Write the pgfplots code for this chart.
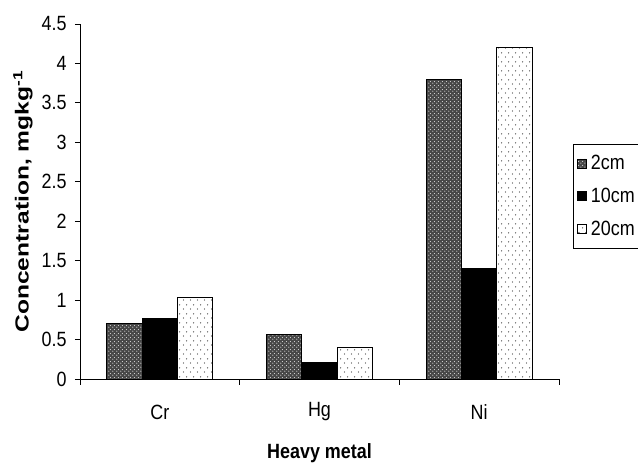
\documentclass[border=0pt]{standalone}
\usepackage{pgfplots}
\pgfplotsset{compat=1.18}
\usepackage{fontspec}
\setmainfont{Liberation Sans}
\usetikzlibrary{patterns.meta}

% dark mesh used for the 2 cm bars
\tikzdeclarepattern{
  name=meshdots, type=uncolored,
  bottom left={(0bp,0bp)}, top right={(4bp,4bp)}, tile size={(4bp,4bp)},
  code={\fill (1bp,1bp) circle (0.7bp); \fill (3bp,3bp) circle (0.7bp);}
}
% sparse dots used for the 20 cm bars
\tikzdeclarepattern{
  name=sparsedots, type=uncolored,
  bottom left={(0bp,0bp)}, top right={(7bp,9bp)}, tile size={(7bp,9bp)},
  code={\fill (1.75bp,2.25bp) circle (0.75bp); \fill (5.25bp,6.75bp) circle (0.75bp);}
}

\newcommand{\st}[1]{\scalebox{1}[1.15]{#1}}

\pgfplotstableread{
x  a     b     c
0  0.70  0.77  1.03
1  0.57  0.21  0.40
2  3.80  1.40  4.20
}\metals

\begin{document}
\begin{tikzpicture}
\useasboundingbox (0,0) rectangle (638bp,464bp);
\begin{axis}[
  at={(80bp,85bp)}, anchor=south west,
  scale only axis, width=479bp, height=355bp,
  font=\fontsize{18}{21}\selectfont,
  ybar=0pt, bar width=35.3bp,
  xmin=-0.5, xmax=2.5, ymin=0, ymax=4.5,
  axis x line*=bottom, axis y line*=left,
  axis line style={line width=0.9bp, -},
  xtick={0,1,2},
  xticklabels={\st{Cr},\st{Hg},\st{Ni}},
  major x tick style={draw=none},
  minor xtick={-0.5,0.5,1.5,2.5},
  minor tick length=6bp, major tick length=5bp,
  tick align=outside,
  tick style={black, line width=0.9bp},
  ytick={0,0.5,...,4.5},
  /pgf/number format/assume math mode=true,
  yticklabel={\st{\pgfmathprintnumber{\tick}}},
  yticklabel style={xshift=-5bp},
  xticklabel style={anchor=center, yshift=-28bp},
  xlabel={\st{\textbf{Heavy metal}}},
  xlabel style={at={(axis description cs:0.5,-0.2085)}, anchor=center},
  ylabel={\scalebox{1.3}[1]{\fontsize{19}{22}\selectfont\textbf{Concentration, mgkg\textsuperscript{-1}}}},
  ylabel style={at={(axis description cs:-0.119,0.5)}, anchor=center},
  legend style={at={(1.029,0.662)}, anchor=north west, draw=black, line width=0.9bp,
    font=\fontsize{18}{21}\selectfont, row sep=13bp, column sep=2bp,
    inner xsep=4bp, inner ysep=9bp, cells={anchor=west}},
  legend image code/.code={%
    \draw[#1, line width=0.6bp] (0bp,-4.5bp) rectangle (9bp,4.5bp);},
]
\addplot[draw=black, line width=0.8bp, fill=black!72,
  postaction={pattern=meshdots, pattern color=white!85!black}] table[x=x, y=a] {\metals};
\addlegendentry{\st{2cm}}
\addplot[draw=black, line width=0.8bp, fill=black] table[x=x, y=b] {\metals};
\addlegendentry{\st{10cm}}
\addplot[draw=black, line width=0.8bp, fill=white,
  postaction={pattern=sparsedots, pattern color=black!75}] table[x=x, y=c] {\metals};
\addlegendentry{\st{20cm}}
\end{axis}
\end{tikzpicture}
\end{document}
